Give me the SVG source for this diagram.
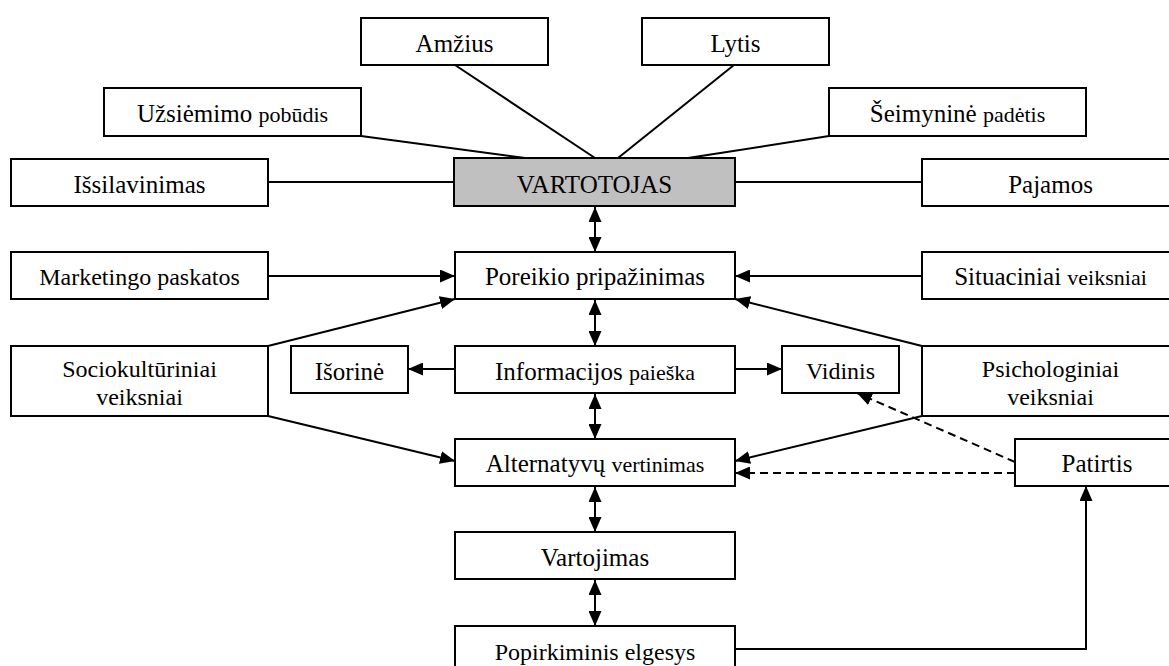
<svg xmlns="http://www.w3.org/2000/svg" width="1169" height="666" viewBox="0 0 1169 666">
  <style>
    .box { fill: #ffffff; stroke: #000000; stroke-width: 2; }
    .main { fill: #c0c0c0; }
    .lbl text { font-size: 25px; fill: #000000; text-anchor: middle; }
    .lbl .sm { font-size: 22px; }
    .lbl .mid { font-size: 24px; }
    .ln { fill: none; stroke: #000000; stroke-width: 2; }
    .arr { marker-end: url(#head); }
    .both { marker-start: url(#head); marker-end: url(#head); }
    .dash { stroke-dasharray: 8 5; }
  </style>
  <defs>
    <marker id="head" markerUnits="userSpaceOnUse" markerWidth="15" markerHeight="13" refX="15" refY="6.5" orient="auto-start-reverse">
      <path d="M0,0 L15,6.5 L0,13 Z" fill="#000000"/>
    </marker>
  </defs>
  <rect width="1169" height="666" fill="#ffffff"/>

  <g id="connectors">
    <!-- demographic attributes linked to the consumer -->
    <line class="ln" x1="455" y1="65" x2="595" y2="158"/>
    <line class="ln" x1="734" y1="65" x2="618" y2="158"/>
    <line class="ln" x1="361" y1="136" x2="525" y2="158"/>
    <line class="ln" x1="829" y1="136" x2="688" y2="158"/>
    <line class="ln" x1="268" y1="182" x2="454" y2="182"/>
    <line class="ln" x1="735" y1="182" x2="922" y2="182"/>
    <!-- main decision chain -->
    <line class="ln both" x1="595" y1="207" x2="595" y2="252"/>
    <line class="ln both" x1="595" y1="300" x2="595" y2="346"/>
    <line class="ln both" x1="595" y1="394" x2="595" y2="439"/>
    <line class="ln both" x1="595" y1="487" x2="595" y2="532"/>
    <line class="ln both" x1="595" y1="580" x2="595" y2="626"/>
    <!-- influencing factors -->
    <line class="ln arr" x1="268" y1="276" x2="455" y2="276"/>
    <line class="ln arr" x1="922" y1="276" x2="735" y2="276"/>
    <line class="ln arr" x1="268" y1="346" x2="455" y2="299"/>
    <line class="ln arr" x1="922" y1="346" x2="735" y2="299"/>
    <line class="ln arr" x1="268" y1="416" x2="455" y2="461"/>
    <line class="ln arr" x1="922" y1="416" x2="735" y2="461"/>
    <!-- information sources -->
    <line class="ln arr" x1="455" y1="369" x2="408" y2="369"/>
    <line class="ln arr" x1="735" y1="369" x2="782" y2="369"/>
    <!-- experience feedback -->
    <line class="ln arr dash" x1="1015" y1="473" x2="735" y2="473"/>
    <line class="ln arr dash" x1="1015" y1="462" x2="857" y2="393"/>
    <polyline class="ln arr" points="735,649 1086,649 1086,486"/>
  </g>

  <g class="lbl" font-family="'Liberation Serif', 'DejaVu Serif', 'Times New Roman', serif">
    <g id="amzius"><rect class="box" x="361" y="18" width="187" height="47"/><text x="454.5" y="52">Amžius</text></g>
    <g id="lytis"><rect class="box" x="642" y="18" width="187" height="47"/><text x="735.5" y="52">Lytis</text></g>
    <g id="uzsiemimas"><rect class="box" x="104" y="88" width="257" height="48"/><text x="232.5" y="122">Užsiėmimo <tspan class="sm">pobūdis</tspan></text></g>
    <g id="seimynine"><rect class="box" x="829" y="88" width="257" height="48"/><text x="957.5" y="122">Šeimyninė <tspan class="sm">padėtis</tspan></text></g>
    <g id="issilavinimas"><rect class="box" x="11" y="159" width="257" height="47"/><text x="139.5" y="193">Išsilavinimas</text></g>
    <g id="vartotojas"><rect class="box main" x="454" y="158" width="281" height="48"/><text x="594.5" y="193">VARTOTOJAS</text></g>
    <g id="pajamos"><rect class="box" x="922" y="159" width="257" height="47"/><text x="1050.5" y="193">Pajamos</text></g>

    <g id="marketingo"><rect class="box" x="11" y="252" width="257" height="47"/><text class="mid" x="139.5" y="285">Marketingo paskatos</text></g>
    <g id="poreikio"><rect class="box" x="455" y="252" width="280" height="47"/><text x="595" y="285">Poreikio pripažinimas</text></g>
    <g id="situaciniai"><rect class="box" x="922" y="252" width="257" height="47"/><text x="1050.5" y="285">Situaciniai <tspan class="sm">veiksniai</tspan></text></g>

    <g id="sociokulturiniai"><rect class="box" x="11" y="346" width="257" height="70"/><text class="mid" x="139.5" y="377">Sociokultūriniai</text><text class="mid" x="139.5" y="405">veiksniai</text></g>
    <g id="isorine"><rect class="box" x="291" y="346" width="117" height="47"/><text x="349.5" y="380">Išorinė</text></g>
    <g id="informacijos"><rect class="box" x="455" y="346" width="280" height="47"/><text x="595" y="380">Informacijos <tspan class="sm">paieška</tspan></text></g>
    <g id="vidinis"><rect class="box" x="782" y="346" width="117" height="47"/><text class="mid" x="840.5" y="379">Vidinis</text></g>
    <g id="psichologiniai"><rect class="box" x="922" y="346" width="257" height="70"/><text class="mid" x="1050.5" y="377">Psichologiniai</text><text class="mid" x="1050.5" y="405">veiksniai</text></g>

    <g id="alternatyvu"><rect class="box" x="455" y="439" width="280" height="47"/><text x="595" y="472">Alternatyvų <tspan class="sm">vertinimas</tspan></text></g>
    <g id="patirtis"><rect class="box" x="1015" y="439" width="164" height="47"/><text x="1097" y="472">Patirtis</text></g>
    <g id="vartojimas"><rect class="box" x="455" y="532" width="280" height="47"/><text x="595" y="566">Vartojimas</text></g>
    <g id="popirkiminis"><rect class="box" x="455" y="626" width="280" height="50"/><text class="mid" x="595" y="660">Popirkiminis elgesys</text></g>
  </g>
</svg>
